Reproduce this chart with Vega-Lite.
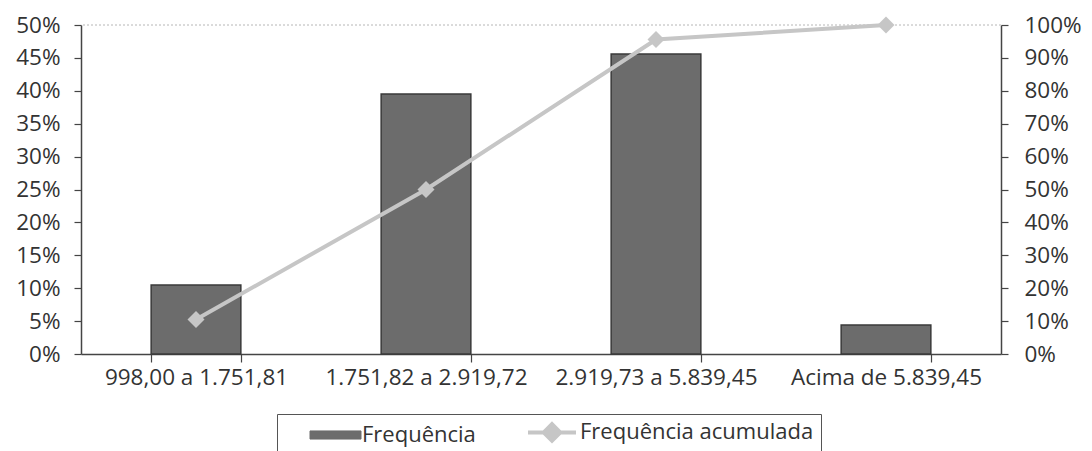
{
  "$schema": "https://vega.github.io/schema/vega-lite/v6.json",
  "autosize": "none",
  "width": 920,
  "height": 329,
  "padding": {"left": 81, "top": 25, "right": 91, "bottom": 97},
  "background": "white",
  "config": {
    "view": {"stroke": null},
    "font": "Open Sans",
    "axis": {"labelFont": "Open Sans", "labelFontSize": 22.5, "labelColor": "#333333", "labelLimit": 400, "domainColor": "#444444", "tickColor": "#444444", "domainWidth": 1.5, "tickWidth": 1.2, "grid": false, "title": null}
  },
  "data": {
    "values": [
      {"faixa": "998,00 a 1.751,81", "freq": 0.105, "acum": 0.105},
      {"faixa": "1.751,82 a 2.919,72", "freq": 0.395, "acum": 0.50},
      {"faixa": "2.919,73 a 5.839,45", "freq": 0.456, "acum": 0.956},
      {"faixa": "Acima de 5.839,45", "freq": 0.044, "acum": 1.0}
    ]
  },
  "layer": [
    {
      "encoding": {
        "y": {
          "field": "freq",
          "type": "quantitative",
          "scale": {"domain": [0, 0.5], "nice": false},
          "axis": {"orient": "left", "format": ".0%", "values": [0, 0.05, 0.1, 0.15, 0.2, 0.25, 0.3, 0.35, 0.4, 0.45, 0.5], "tickSize": 7, "labelPadding": 14}
        }
      },
      "layer": [
        {
          "mark": {"type": "rule", "color": "#d8d8d8", "strokeDash": [2, 2], "strokeWidth": 1},
          "encoding": {"y": {"datum": 0.5}}
        },
        {
          "mark": {"type": "bar", "stroke": "#3a3a3a", "strokeWidth": 1.5},
          "encoding": {
            "x": {
              "field": "faixa",
              "type": "nominal",
              "sort": null,
              "scale": {"paddingInner": 0.61, "paddingOuter": 0.305},
              "axis": {"labelAngle": 0, "tickBand": "extent", "tickSize": 8, "labelPadding": 4, "labelOverlap": false, "labelLimit": 400}
            },
            "color": {
              "datum": "Frequência",
              "scale": {"domain": ["Frequência", "Frequência acumulada"], "range": ["#6c6c6c", "#c6c6c6"]},
              "legend": {
                "orient": "none",
                "legendX": 196,
                "legendY": 389,
                "direction": "horizontal",
                "title": " ",
                "titleOrient": "left",
                "titleFontSize": 4,
                "titlePadding": 30,
                "labelFont": "Open Sans",
                "labelFontSize": 22,
                "labelColor": "#333333",
                "labelLimit": 400,
                "symbolSize": 900,
                "labelOffset": 26,
                "columnPadding": 44,
                "padding": 7,
                "strokeColor": "#555555",
                "encode": {
                  "symbols": {
                    "update": {
                      "shape": {"signal": "datum.value === 'Frequência' ? 'M-1,-0.27H2.4V0.27H-1Z' : 'M-1,0H2.2M0.6,-0.55L1.15,0L0.6,0.55L0.05,0Z'"},
                      "fill": {"signal": "datum.value === 'Frequência' ? '#666666' : '#c4c4c4'"},
                      "stroke": {"signal": "datum.value === 'Frequência' ? '#333333' : '#c8c8c8'"},
                      "strokeWidth": {"signal": "datum.value === 'Frequência' ? 1 : 4"}
                    }
                  }
                }
              }
            }
          }
        }
      ]
    },
    {
      "encoding": {
        "x": {"field": "faixa", "type": "nominal", "sort": null},
        "y": {
          "field": "acum",
          "type": "quantitative",
          "scale": {"domain": [0, 1], "nice": false},
          "axis": {"orient": "right", "format": ".0%", "values": [0, 0.1, 0.2, 0.3, 0.4, 0.5, 0.6, 0.7, 0.8, 0.9, 1.0], "tickSize": 7, "labelPadding": 16}
        },
        "color": {
          "datum": "Frequência acumulada",
          "legend": {
            "orient": "none",
            "legendX": 196,
            "legendY": 389,
            "direction": "horizontal",
            "title": " ",
            "titleOrient": "left",
            "titleFontSize": 4,
            "titlePadding": 30,
            "labelFont": "Open Sans",
            "labelFontSize": 22,
            "labelColor": "#333333",
            "labelLimit": 400,
            "symbolSize": 900,
            "labelOffset": 26,
            "columnPadding": 44,
            "padding": 7,
            "strokeColor": "#555555",
            "encode": {
              "symbols": {
                "update": {
                  "shape": {"signal": "datum.value === 'Frequência' ? 'M-1,-0.27H2.4V0.27H-1Z' : 'M-1,0H2.2M0.6,-0.55L1.15,0L0.6,0.55L0.05,0Z'"},
                  "fill": {"signal": "datum.value === 'Frequência' ? '#666666' : '#c4c4c4'"},
                  "stroke": {"signal": "datum.value === 'Frequência' ? '#333333' : '#c8c8c8'"},
                  "strokeWidth": {"signal": "datum.value === 'Frequência' ? 1 : 4"}
                }
              }
            }
          }
        }
      },
      "layer": [
        {"mark": {"type": "line", "strokeWidth": 4}},
        {"mark": {"type": "point", "shape": "diamond", "filled": true, "size": 290, "opacity": 1}}
      ]
    }
  ],
  "resolve": {"scale": {"y": "independent"}}
}
